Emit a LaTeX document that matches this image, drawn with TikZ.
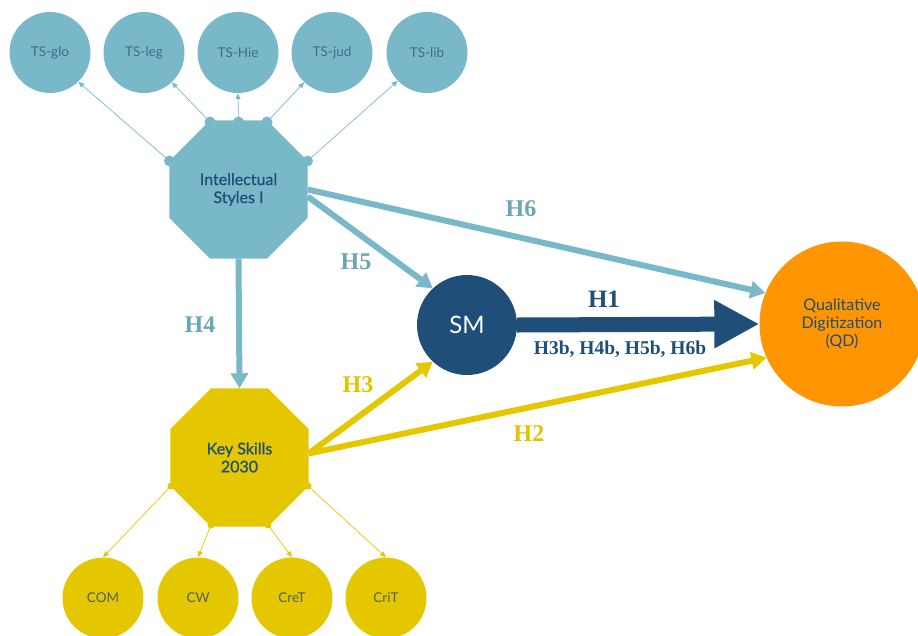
\documentclass[tikz,border=0pt]{standalone}
\usepackage{fontspec}
\setmainfont{Liberation Serif}
\newfontfamily\avn{Lato}
\newfontfamily\avnmed[FakeBold=0.9]{Lato}
\usetikzlibrary{arrows.meta,shapes.geometric,calc}
\definecolor{lblue}{HTML}{79B8C9}
\definecolor{hblue}{HTML}{6BA6B7}
\definecolor{navy}{HTML}{1F4E79}
\definecolor{ksyel}{HTML}{E5C700}
\definecolor{hyel}{HTML}{E3C300}
\definecolor{qdor}{HTML}{FF9500}
\definecolor{tstext}{HTML}{3E6C8A}
\definecolor{kstext}{HTML}{4F6166}
\tikzset{
  octo/.style={regular polygon, regular polygon sides=8, minimum size=149.4pt, inner sep=0pt, draw=none, align=center, text=navy, font=\avnmed\fontsize{16}{18}\selectfont},
  tscirc/.style={circle, minimum size=81pt, inner sep=0pt, fill=lblue, text=tstext, font=\avn\fontsize{13.5}{15}\selectfont},
  kscirc/.style={circle, minimum size=81pt, inner sep=0pt, fill=ksyel, text=kstext, font=\avn\fontsize{13.5}{15}\selectfont},
  thinb/.style={draw=lblue, line width=0.7pt, -{Triangle[length=6pt,width=5pt]}},
  thiny/.style={draw=ksyel, line width=0.7pt, -{Triangle[length=6pt,width=5pt]}},
  thick/.style={line width=6pt, -{Triangle[length=15pt,width=17pt]}},
  hlab/.style={font=\bfseries\fontsize{24}{26}\selectfont, inner sep=0pt},
  bigdot/.style={circle, inner sep=0pt, minimum size=11pt, fill=lblue},
  smalldot/.style={circle, inner sep=0pt, minimum size=7pt, fill=ksyel}
}
\begin{document}
\begin{tikzpicture}[x=1pt,y=-1pt]
\useasboundingbox (0,0) rectangle (918,635);
\clip (0,0) rectangle (918,635);
% top circles
\node[tscirc] (glo) at (50,52.5) {TS-glo};
\node[tscirc] (leg) at (144,52.5) {TS-leg};
\node[tscirc] (hie) at (238,52.5) {TS-Hie};
\node[tscirc] (jud) at (332,52.5) {TS-jud};
\node[tscirc] (lib) at (427,52.5) {TS-lib};
% bottom circles
\node[kscirc] (com) at (103,598) {COM};
\node[kscirc] (cw) at (198,598) {CW};
\node[kscirc] (cret) at (292,598) {CreT};
\node[kscirc] (crit) at (386,598) {CriT};
% main nodes
\node[circle, minimum size=100pt, inner sep=0pt, fill=navy, text=white, font=\avn\fontsize{24}{26}\selectfont] (SM) at (467,325) {SM};
\node[circle, minimum size=165pt, inner sep=0pt, fill=qdor, text=navy, align=center, font=\avn\fontsize{16}{18}\selectfont] (QD) at (842,324) {Qualitative\\Digitization\\(QD)};
% octagons
\node[octo, fill=lblue] (IS) at (238.5,189.5) {Intellectual\\Styles I};
\node[octo, fill=ksyel] (KS) at (239.5,457.5) {Key Skills\\2030};
% thick connectors
\draw[thick, draw=lblue] (IS.south) -- (KS.north);
\draw[thick, draw=lblue] (IS.east) -- (QD.158);
\draw[thick, draw=lblue] ($(IS.east)+(0,7)$) -- (SM.133);
\draw[thick, draw=ksyel] ($(KS.east)+(0,-4)$) -- (SM.227);
\draw[thick, draw=ksyel] ($(KS.east)+(0,-4)$) -- (QD.204);
\draw[navy, line width=15pt, -{Triangle[length=45pt,width=45pt]}] (SM.east) -- (QD.west);
% dots on IS
\coordinate (d1) at (169.5,161);
\coordinate (d2) at (210,122);
\coordinate (d3) at (238.5,122);
\coordinate (d4) at (267,122);
\coordinate (d5) at (307.5,161);
\foreach \d in {d1,d2,d3,d4,d5} \node[bigdot] at (\d) {};
\draw[thinb] (d1) -- (glo.-46);
\draw[thinb] (d2) -- (leg.-47);
\draw[thinb] (d3) -- (hie.south);
\draw[thinb] (d4) -- (jud.-133);
\draw[thinb] (d5) -- (lib.-136);
% dots on KS
\coordinate (k1) at (171,486);
\coordinate (k2) at (211,525);
\coordinate (k3) at (268,525);
\coordinate (k4) at (308,486);
\foreach \d in {k1,k2,k3,k4} \node[smalldot] at (\d) {};
\draw[thiny] (k1) -- (com.north);
\draw[thiny] (k2) -- (cw.north);
\draw[thiny] (k3) -- (cret.north);
\draw[thiny] (k4) -- (crit.north);
% labels
\node[hlab, text=hblue] (lh6) at (521,209) {H6};
\node[hlab, text=hblue] (lh5) at (356,262) {H5};
\node[hlab, text=hblue] (lh4) at (200,325) {H4};
\node[hlab, text=navy, font=\bfseries\fontsize{25}{27}\selectfont] (lh1) at (604,299) {H1};
\node[hlab, text=navy, font=\bfseries\fontsize{19.5}{22}\selectfont] (lhb) at (620,349) {H3b, H4b, H5b, H6b};
\node[hlab, text=hyel] (lh3) at (358,385) {H3};
\node[hlab, text=hyel] (lh2) at (529,434) {H2};
\end{tikzpicture}
\end{document}
